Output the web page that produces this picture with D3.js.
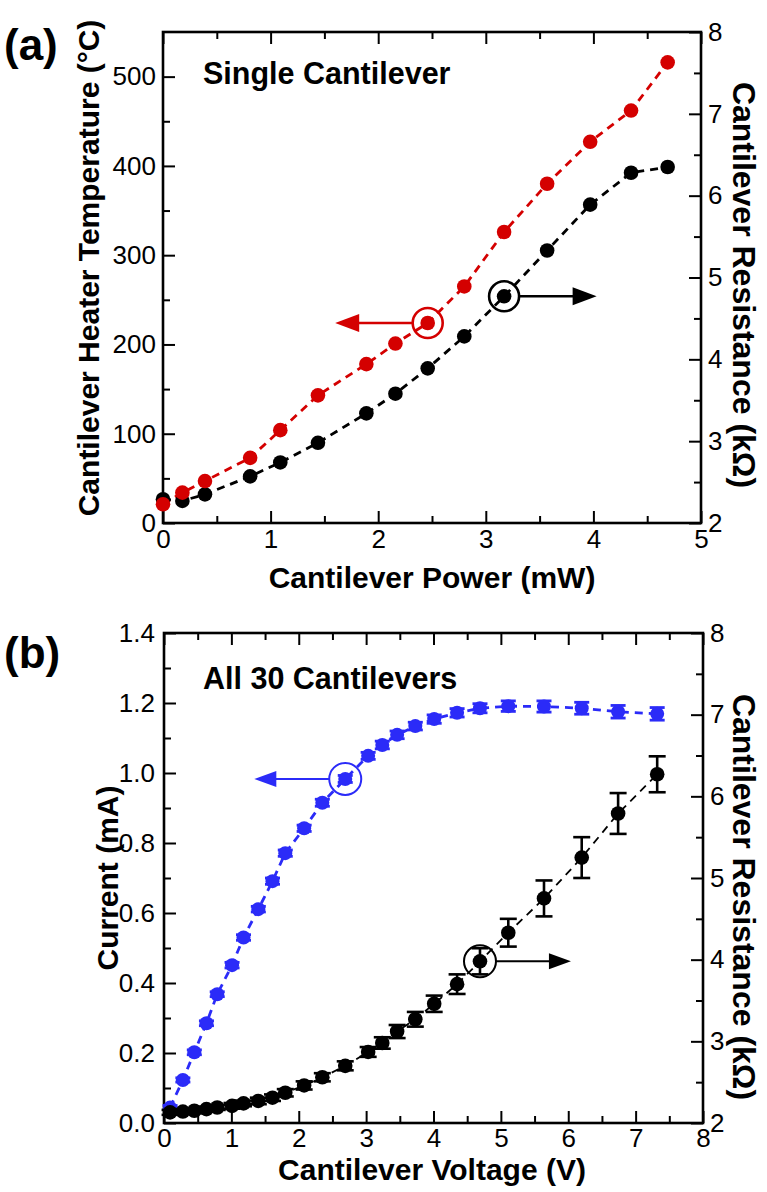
<!DOCTYPE html>
<html>
<head>
<meta charset="utf-8">
<script src="https://cdn.jsdelivr.net/npm/d3@7"></script>
<style>
  body { margin: 0; background: #fff; }
  svg text { font-family: "Liberation Sans", Arial, sans-serif; fill: #000; }
</style>
</head>
<body>
<svg id="chart" width="767" height="1192"></svg>
<script>
// ---- panel (a): single cantilever ----
var powerMW = [0, 0.18, 0.39, 0.81, 1.09, 1.44, 1.89, 2.16, 2.46, 2.80, 3.17, 3.57, 3.97, 4.35, 4.69];
var heaterTempC = [21, 34, 47, 73, 104, 143, 178, 201, 224, 265, 326, 380, 427, 462, 516];
var resistanceA = [2.29, 2.27, 2.35, 2.57, 2.74, 2.98, 3.34, 3.58, 3.89, 4.28, 4.77, 5.33, 5.89, 6.28, 6.35];

// ---- panel (b): all 30 cantilevers ----
var voltageV = [0.09, 0.28, 0.45, 0.63, 0.79, 1.01, 1.18, 1.40, 1.61, 1.80, 2.08, 2.35, 2.69,
                3.03, 3.24, 3.46, 3.73, 4.01, 4.35, 4.69, 5.11, 5.64, 6.20, 6.74, 7.32];
var currentMA = [0.044, 0.123, 0.202, 0.285, 0.368, 0.451, 0.530, 0.611, 0.691, 0.771, 0.842, 0.915, 0.983,
                 1.049, 1.080, 1.109, 1.134, 1.154, 1.172, 1.185, 1.191, 1.190, 1.185, 1.175, 1.169];
var currentErr = [0.006, 0.006, 0.007, 0.007, 0.007, 0.008, 0.008, 0.008, 0.009, 0.009, 0.009, 0.010, 0.010,
                  0.010, 0.011, 0.011, 0.011, 0.012, 0.012, 0.013, 0.015, 0.016, 0.017, 0.018, 0.018];
var resistanceB = [2.13, 2.14, 2.15, 2.17, 2.19, 2.21, 2.24, 2.27, 2.31, 2.37, 2.46, 2.56, 2.70,
                   2.87, 2.98, 3.12, 3.27, 3.46, 3.70, 3.98, 4.33, 4.75, 5.25, 5.79, 6.27];
var resistanceErr = [0.03, 0.03, 0.03, 0.03, 0.03, 0.035, 0.035, 0.04, 0.04, 0.045, 0.05, 0.05, 0.055,
                     0.06, 0.07, 0.08, 0.09, 0.10, 0.12, 0.16, 0.17, 0.22, 0.25, 0.25, 0.22];

// tick values
var ticksA_x = [0, 1, 2, 3, 4, 5];
var ticksA_left = [0, 100, 200, 300, 400, 500];
var ticksB_x = [0, 1, 2, 3, 4, 5, 6, 7, 8];
var ticksB_left = [0, 0.2, 0.4, 0.6, 0.8, 1.0, 1.2, 1.4];
var ticksRight = [2, 3, 4, 5, 6, 7, 8];

var RED = "#d40000", BLUE = "#2b2bf8", BLACK = "#000";

var svg = d3.select("#chart");

// draws a framed box with inward ticks on all four sides
function drawFrame(g, x, y, yr, opt) {
    var x0 = x.range()[0], x1 = x.range()[1], y0 = y.range()[0], y1 = y.range()[1];
    var major = 12, minor = 7;

    function ax(axis, tr, vals, size, labels, pad) {
        var a = g.append("g").attr("transform", tr)
            .call(axis.tickValues(vals).tickSizeInner(size).tickSizeOuter(0).tickPadding(pad)
                .tickFormat(labels ? labels : ""));
        a.select(".domain").remove();
        a.selectAll("line").attr("stroke", "#000").attr("stroke-width", 2);
        a.selectAll("text").style("font-size", "26px");
        return a;
    }
    // bottom / top
    ax(d3.axisBottom(x), "translate(0," + y0 + ")", opt.xMajor, -major, d3.format("d"), opt.xPad);
    ax(d3.axisBottom(x), "translate(0," + y0 + ")", opt.xMinor, -minor, null, 0);
    ax(d3.axisTop(x), "translate(0," + y1 + ")", opt.xMajor, -major, null, 0);
    ax(d3.axisTop(x), "translate(0," + y1 + ")", opt.xMinor, -minor, null, 0);
    // left
    ax(d3.axisLeft(y), "translate(" + x0 + ",0)", opt.yMajor, -major, opt.yFmt, opt.yPad);
    ax(d3.axisLeft(y), "translate(" + x0 + ",0)", opt.yMinor, -minor, null, 0);
    // right
    ax(d3.axisRight(yr), "translate(" + x1 + ",0)", ticksRight, -major, d3.format("d"), 7);
    ax(d3.axisRight(yr), "translate(" + x1 + ",0)", d3.range(2.5, 8, 1), -minor, null, 0);

    g.append("rect")
        .attr("x", x0).attr("y", y1).attr("width", x1 - x0).attr("height", y0 - y1)
        .attr("fill", "none").attr("stroke", "#000").attr("stroke-width", 2.6);
}

function dashedLine(g, xs, ys, x, y, color, width) {
    g.append("path")
        .datum(d3.range(xs.length))
        .attr("fill", "none").attr("stroke", color)
        .attr("stroke-width", width).attr("stroke-dasharray", "8,6")
        .attr("d", d3.line().x(function(i) { return x(xs[i]); }).y(function(i) { return y(ys[i]); }));
}

function dots(g, xs, ys, x, y, color, r) {
    g.selectAll(null).data(d3.range(xs.length)).enter().append("circle")
        .attr("cx", function(i) { return x(xs[i]); })
        .attr("cy", function(i) { return y(ys[i]); })
        .attr("r", r).attr("fill", color);
}

function errorBars(g, xs, ys, es, x, y, color, cap, w) {
    var e = g.selectAll(null).data(d3.range(xs.length)).enter().append("g")
        .attr("stroke", color).attr("stroke-width", w);
    e.append("line")
        .attr("x1", function(i) { return x(xs[i]); }).attr("x2", function(i) { return x(xs[i]); })
        .attr("y1", function(i) { return y(ys[i] - es[i]); }).attr("y2", function(i) { return y(ys[i] + es[i]); });
    [-1, 1].forEach(function(s) {
        e.append("line")
            .attr("x1", function(i) { return x(xs[i]) - cap; }).attr("x2", function(i) { return x(xs[i]) + cap; })
            .attr("y1", function(i) { return y(ys[i] + s * es[i]); }).attr("y2", function(i) { return y(ys[i] + s * es[i]); });
    });
}

// circle around a point plus a horizontal arrow pointing to its axis
function marker(g, cx, cy, r, tipX, color, w, headL, headW) {
    g.append("circle").attr("cx", cx).attr("cy", cy).attr("r", r)
        .attr("fill", "none").attr("stroke", color).attr("stroke-width", w);
    var dir = tipX < cx ? -1 : 1;
    var start = cx + dir * r;
    g.append("line").attr("x1", start).attr("x2", tipX - dir * headL * 0.8)
        .attr("y1", cy).attr("y2", cy).attr("stroke", color).attr("stroke-width", w);
    g.append("path")
        .attr("d", "M" + tipX + "," + cy + "L" + (tipX - dir * headL) + "," + (cy - headW) +
                   "L" + (tipX - dir * headL) + "," + (cy + headW) + "Z")
        .attr("fill", color);
}

// ================= panel (a) =================
var xA = d3.scaleLinear().domain([0, 5]).range([163, 701]);
var yA = d3.scaleLinear().domain([0, 550]).range([523, 32]);
var rA = d3.scaleLinear().domain([2, 8]).range([523, 32]);
var gA = svg.append("g");

drawFrame(gA, xA, yA, rA, {
    xMajor: ticksA_x, xMinor: d3.range(0.5, 5, 1),
    yMajor: ticksA_left, yMinor: d3.range(50, 550, 100),
    yFmt: d3.format("d"), xPad: 7, yPad: 7
});

dashedLine(gA, powerMW, resistanceA, xA, rA, BLACK, 2.8);
dashedLine(gA, powerMW, heaterTempC, xA, yA, RED, 2.8);
dots(gA, powerMW, resistanceA, xA, rA, BLACK, 7.3);
dots(gA, powerMW, heaterTempC, xA, yA, RED, 7.3);

marker(gA, xA(powerMW[8]), yA(heaterTempC[8]), 15, xA(1.60), RED, 2.6, 24, 9);
marker(gA, xA(powerMW[10]), rA(resistanceA[10]), 15, xA(4.03), BLACK, 2.6, 24, 9);

gA.append("text").attr("x", 203).attr("y", 84)
    .style("font-size", "30.5px").style("font-weight", "bold").text("Single Cantilever");

// ================= panel (b) =================
var xB = d3.scaleLinear().domain([0, 8]).range([164, 703]);
var yB = d3.scaleLinear().domain([0, 1.4]).range([1123, 633]);
var rB = d3.scaleLinear().domain([2, 8]).range([1123, 633]);
var gB = svg.append("g");

drawFrame(gB, xB, yB, rB, {
    xMajor: ticksB_x, xMinor: d3.range(0.5, 8, 1),
    yMajor: ticksB_left, yMinor: d3.range(0.1, 1.4, 0.2),
    yFmt: d3.format(".1f"), xPad: 6, yPad: 9
});

dashedLine(gB, voltageV, currentMA, xB, yB, BLUE, 2.8);
errorBars(gB, voltageV, currentMA, currentErr, xB, yB, BLUE, 7.5, 2.8);
dots(gB, voltageV, currentMA, xB, yB, BLUE, 7);
dashedLine(gB, voltageV, resistanceB, xB, rB, BLACK, 1.8);
errorBars(gB, voltageV, resistanceB, resistanceErr, xB, rB, BLACK, 8.5, 2.6);
dots(gB, voltageV, resistanceB, xB, rB, BLACK, 7.3);

marker(gB, xB(voltageV[12]), yB(currentMA[12]), 16, xB(1.34), BLUE, 2, 22, 8);
marker(gB, xB(voltageV[19]), rB(resistanceB[19]), 16, xB(6.04), BLACK, 2, 22, 8);

gB.append("text").attr("x", 203).attr("y", 689)
    .style("font-size", "30.5px").style("font-weight", "bold").text("All 30 Cantilevers");

// ================= labels =================
function title(x, y, rot, txt, size) {
    svg.append("text")
        .attr("transform", "translate(" + x + "," + y + ") rotate(" + rot + ")")
        .attr("text-anchor", "middle")
        .style("font-size", size + "px").style("font-weight", "bold")
        .text(txt);
}
title(99, 268, -90, "Cantilever Heater Temperature (\u00B0C)", 30);
title(733, 285, 90, "Cantilever Resistance (k\u03A9)", 32);
title(432, 588, 0, "Cantilever Power (mW)", 30);

title(118, 878, -90, "Current (mA)", 30);
title(733, 897, 90, "Cantilever Resistance (k\u03A9)", 32);
title(432, 1180, 0, "Cantilever Voltage (V)", 30);

svg.append("text").attr("x", 4).attr("y", 60)
    .style("font-size", "44px").style("font-weight", "bold").text("(a)");
svg.append("text").attr("x", 4).attr("y", 668)
    .style("font-size", "44px").style("font-weight", "bold").text("(b)");
</script>
</body>
</html>
